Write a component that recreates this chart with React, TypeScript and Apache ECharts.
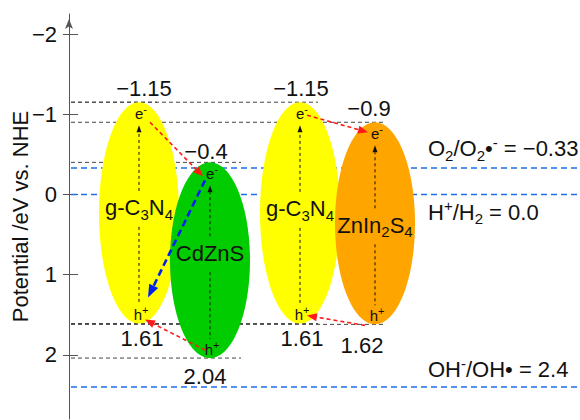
import React, { useEffect, useRef } from 'react';
import * as echarts from 'echarts';

// ---------------- data ----------------
const materials = ['g-C3N4', 'CdZnS', 'g-C3N4', 'ZnIn2S4'];
const cbPotentials = [-1.15, -0.4, -1.15, -0.9];
const vbPotentials = [1.61, 2.04, 1.61, 1.62];
const refPotentials = [-0.33, 0.0, 2.4];
const refLabels = ['O{s|2}/O{s|2}•{p|-} = −0.33', 'H{p|+}/H{s|2} = 0.0', 'OH{p|-}/OH• = 2.4'];
const yTickValues = [-2, -1, 0, 1, 2];
const transferFrom = [0, 2, 1, 3, 1];
const transferFromBand = ['cb', 'cb', 'vb', 'vb', 'cb'];
const transferTo = [1, 3, 0, 2, 0];
const transferToBand = ['cb', 'cb', 'vb', 'vb', 'vb'];

// ---------------- layout / style ----------------
const FONT = '"Liberation Sans", Arial, Helvetica, sans-serif';
const TXT = '#111';
const FS = 22;
const X_MIN = 69;
const X_MAX = 580;
const Y_MIN = -2.25;
const Y_MAX = 2.8;
const centers = [139, 210, 300, 375];
const fills = ['#FFFF00', '#00CC00', '#FFFF00', '#FFA500'];
const RX = 40;
const nameDy = [-5, -7, -4, 2];
const levelExt = [18, 31, 18, 11];
const cbLabelOff = [[5, -14], [-4, -11], [1, -14], [-6, -14]];
const vbLabelOff = [[3, 15], [-5, 18], [2, 15], [-13, 21]];
const refLabelX = 428;
const refLabelDy = [-19, 18, -17];
const transferStartOff = [[11, 20], [7, 13], [-5, -8], [-10, 1], [-5, 18]];
const transferEndOff = [[-7, 14], [-7, 10], [6, -4], [7, -8], [9, -26]];
const transferColor = ['#FF1A1A', '#FF1A1A', '#FF1A1A', '#FF1A1A', '#0022EE'];
const transferWidth = [1.6, 1.6, 1.6, 1.6, 2.6];
const transferDash = [[4, 3], [4, 3], [4, 3], [4, 3], [7, 4]];
const transferHead = [[10, 8], [10, 8], [10, 8], [10, 8], [13, 10]];

const fmt = (v: number) => (v < 0 ? '−' : '') + String(Math.abs(v));
const subscript = (s: string) => s.replace(/(\d)/g, '{s|$1}');
const bandValue = (i: number, band: string) => (band === 'cb' ? cbPotentials[i] : vbPotentials[i]);

const bigRich = {
  s: { fontSize: 15, verticalAlign: 'bottom', fontFamily: FONT, fill: TXT },
  p: { fontSize: 15, verticalAlign: 'top', fontFamily: FONT, fill: TXT },
};
const smallRich = {
  q: { fontSize: 11, verticalAlign: 'top', fontFamily: FONT, fill: TXT },
};

function arrow(x1: number, y1: number, x2: number, y2: number, color: string, lw: number, dash: number[], hl: number, hw: number) {
  const dx = x2 - x1;
  const dy = y2 - y1;
  const len = Math.hypot(dx, dy) || 1;
  const ux = dx / len;
  const uy = dy / len;
  const bx = x2 - ux * hl;
  const by = y2 - uy * hl;
  const nx = -uy;
  const ny = ux;
  return [
    { type: 'line', shape: { x1, y1, x2: bx, y2: by }, style: { stroke: color, lineWidth: lw, lineDash: dash, fill: null } },
    {
      type: 'polygon',
      shape: { points: [[x2, y2], [bx + (nx * hw) / 2, by + (ny * hw) / 2], [bx - (nx * hw) / 2, by - (ny * hw) / 2]] },
      style: { fill: color, stroke: null },
    },
  ];
}

export default function App() {
  const ref = useRef<HTMLDivElement>(null);
  useEffect(() => {
    if (!ref.current) return;
    const chart = echarts.init(ref.current, null, { renderer: 'svg' });
    const matData = materials.map((_, i) => [centers[i], cbPotentials[i], vbPotentials[i]]);
    const transferData = transferFrom.map((f, i) => [
      centers[f], bandValue(f, transferFromBand[i]), centers[transferTo[i]], bandValue(transferTo[i], transferToBand[i]),
    ]);
    const tickStyle = { color: '#555', width: 1 };
    const option: any = {
      animation: false,
      grid: { left: X_MIN, right: 0, top: 14, bottom: 1, containLabel: false, outerBoundsMode: 'none' },
      xAxis: { type: 'value', min: X_MIN, max: X_MAX, show: false },
      yAxis: [
        {
          type: 'value', inverse: true, min: Y_MIN, max: Y_MAX, position: 'left',
          axisLine: {
            show: true, onZero: false, lineStyle: { color: '#555', width: 1 },
            symbol: ['none', 'arrow'], symbolSize: [6, 10], symbolOffset: [0, -5],
          },
          axisTick: { show: true, length: 6, customValues: yTickValues, lineStyle: tickStyle },
          axisLabel: {
            customValues: yTickValues, margin: 12, fontSize: FS, color: TXT, fontFamily: FONT,
            formatter: (v: number) => fmt(v),
          },
          splitLine: { show: false },
          name: 'Potential /eV vs. NHE', nameLocation: 'middle', nameRotate: 90, nameGap: 38, nameMoveOverlap: false,
          nameTextStyle: { fontSize: 22, color: TXT, fontFamily: FONT },
        },
        {
          type: 'value', inverse: true, min: Y_MIN, max: Y_MAX, position: 'left',
          axisLine: { show: false, onZero: false },
          axisTick: { show: true, inside: true, length: 9, customValues: yTickValues, lineStyle: tickStyle },
          axisLabel: { show: false },
          splitLine: { show: false },
        },
      ],
      series: [
        {
          // band-edge level lines
          type: 'custom', clip: false, data: matData,
          renderItem: (params: any, api: any) => {
            const i = params.dataIndex;
            const x0 = api.coord([X_MIN, 0])[0] + 2;
            const c = api.coord([api.value(0), api.value(1)]);
            const v = api.coord([api.value(0), api.value(2)]);
            const st = { stroke: '#444', lineWidth: 1, lineDash: [4, 3], fill: null };
            return {
              type: 'group',
              children: [
                { type: 'line', shape: { x1: x0, y1: c[1], x2: c[0] + levelExt[i], y2: c[1] }, style: st },
                { type: 'line', shape: { x1: x0, y1: v[1], x2: v[0] + levelExt[i], y2: v[1] }, style: st },
              ],
            };
          },
        },
        {
          // redox reference potentials
          type: 'custom', clip: false, data: refPotentials.map((v) => [X_MIN, v]),
          renderItem: (params: any, api: any) => {
            const i = params.dataIndex;
            const p = api.coord([X_MIN, api.value(1)]);
            const xe = api.coord([X_MAX, 0])[0];
            const xl = api.coord([refLabelX, 0])[0];
            return {
              type: 'group',
              children: [
                { type: 'line', shape: { x1: p[0] + 2, y1: p[1], x2: xe, y2: p[1] }, style: { stroke: '#1E6FE8', lineWidth: 1.5, lineDash: [6, 4], fill: null } },
                {
                  type: 'text', x: xl, y: p[1] + refLabelDy[i],
                  style: { text: refLabels[i], align: 'left', verticalAlign: 'middle', fontSize: FS, lineHeight: 28, fontFamily: FONT, fill: TXT, rich: bigRich },
                },
              ],
            };
          },
        },
        {
          // semiconductor ellipses
          type: 'custom', clip: false, data: matData,
          renderItem: (params: any, api: any) => {
            const i = params.dataIndex;
            const c = api.coord([api.value(0), api.value(1)]);
            const v = api.coord([api.value(0), api.value(2)]);
            return {
              type: 'ellipse',
              shape: { cx: c[0], cy: (c[1] + v[1]) / 2, rx: RX, ry: (v[1] - c[1]) / 2 },
              style: { fill: fills[i], stroke: null },
            };
          },
        },
        {
          // names, carriers, excitation arrows, values
          type: 'custom', clip: false, data: matData,
          renderItem: (params: any, api: any) => {
            const i = params.dataIndex;
            const c = api.coord([api.value(0), api.value(1)]);
            const v = api.coord([api.value(0), api.value(2)]);
            const cx = c[0];
            const nameY = (c[1] + v[1]) / 2 + nameDy[i];
            const children: any[] = [
              ...arrow(cx, nameY - 17, cx, c[1] + 23, '#111', 1, [3, 3], 7, 5),
              { type: 'line', shape: { x1: cx, y1: nameY + 19, x2: cx, y2: v[1] - 19 }, style: { stroke: '#111', lineWidth: 1, lineDash: [3, 3], fill: null } },
              {
                type: 'text', x: cx, y: nameY,
                style: { text: subscript(materials[i]), align: 'center', verticalAlign: 'middle', fontSize: FS, lineHeight: 28, fontFamily: FONT, fill: TXT, rich: bigRich },
              },
              {
                type: 'text', x: cx + 2, y: c[1] + 11,
                style: { text: 'e{q|-}', align: 'center', verticalAlign: 'middle', fontSize: 15, lineHeight: 20, fontFamily: FONT, fill: TXT, rich: smallRich },
              },
              {
                type: 'text', x: cx + 2, y: v[1] - 9,
                style: { text: 'h{q|+}', align: 'center', verticalAlign: 'middle', fontSize: 15, lineHeight: 20, fontFamily: FONT, fill: TXT, rich: smallRich },
              },
              {
                type: 'text', x: cx + cbLabelOff[i][0], y: c[1] + cbLabelOff[i][1],
                style: { text: fmt(cbPotentials[i]), align: 'center', verticalAlign: 'middle', fontSize: FS, fontFamily: FONT, fill: TXT },
              },
              {
                type: 'text', x: cx + vbLabelOff[i][0], y: v[1] + vbLabelOff[i][1],
                style: { text: fmt(vbPotentials[i]), align: 'center', verticalAlign: 'middle', fontSize: FS, fontFamily: FONT, fill: TXT },
              },
            ];
            return { type: 'group', children };
          },
        },
        {
          // charge transfer arrows
          type: 'custom', clip: false, data: transferData,
          renderItem: (params: any, api: any) => {
            const i = params.dataIndex;
            const a = api.coord([api.value(0), api.value(1)]);
            const b = api.coord([api.value(2), api.value(3)]);
            return {
              type: 'group',
              children: arrow(
                a[0] + transferStartOff[i][0], a[1] + transferStartOff[i][1],
                b[0] + transferEndOff[i][0], b[1] + transferEndOff[i][1],
                transferColor[i], transferWidth[i], transferDash[i], transferHead[i][0], transferHead[i][1],
              ),
            };
          },
        },
      ],
    };
    chart.setOption(option);
    return () => chart.dispose();
  }, []);
  return <div ref={ref} style={{ position: 'fixed', left: 0, top: 0, width: 580, height: 420, background: '#fff' }} />;
}
